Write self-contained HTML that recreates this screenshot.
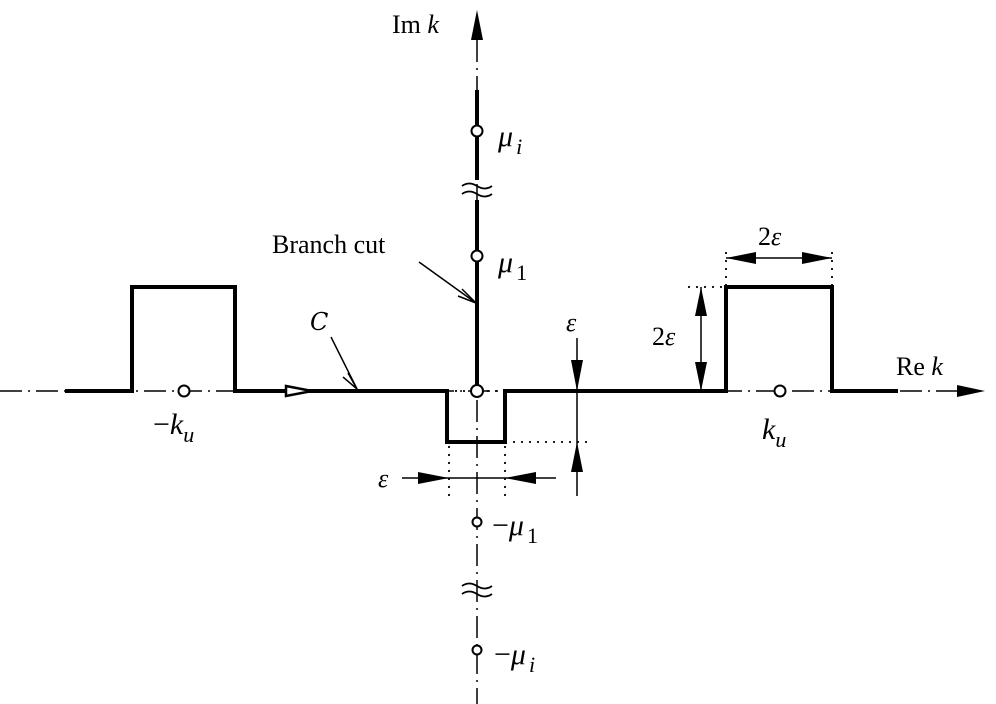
<!DOCTYPE html>
<html><head><style>body{margin:0;background:#fff}svg{display:block}</style></head><body>
<svg width="996" height="704" viewBox="0 0 996 704" xmlns="http://www.w3.org/2000/svg" font-family="'Liberation Serif',serif" font-size="26">
<g stroke="#000" fill="none">
<line x1="0" y1="391" x2="960" y2="391" stroke-width="1.5" stroke-dasharray="22,6,2,6"/>
<line x1="477" y1="40" x2="477" y2="704" stroke-width="1.5" stroke-dasharray="22,6,2,6"/>
<line x1="477" y1="90" x2="477" y2="180" stroke-width="4"/>
<line x1="477" y1="200" x2="477" y2="391" stroke-width="4"/>
<path d="M462,186 q7,-5 15,0 t15,0 M462,194 q7,-5 15,0 t15,0" stroke-width="1.8"/>
<path d="M462,586 q7,-5 15,0 t15,0 M462,594 q7,-5 15,0 t15,0" stroke-width="1.8"/>
<path d="M65,391 H132 V287 H235 V391 H447 V442 H505 V391 H726 V287 H832 V391 H898" stroke-width="4"/>
<g stroke-width="1.8" stroke-dasharray="2,6">
<line x1="447" y1="391" x2="505" y2="391"/>
<line x1="505" y1="442" x2="592" y2="442"/>
<line x1="449" y1="446" x2="449" y2="496"/>
<line x1="505" y1="446" x2="505" y2="496"/>
<line x1="726" y1="252" x2="726" y2="285"/>
<line x1="832" y1="252" x2="832" y2="285"/>
<line x1="688" y1="287" x2="724" y2="287"/>
</g>
<line x1="577" y1="338" x2="577" y2="496" stroke-width="1.5"/>
<line x1="402" y1="478" x2="556" y2="478" stroke-width="1.5"/>
<line x1="726" y1="258" x2="832" y2="258" stroke-width="1.5"/>
<line x1="701" y1="287" x2="701" y2="391" stroke-width="1.5"/>
<line x1="419" y1="262" x2="476" y2="303" stroke-width="1.5"/>
<path d="M462,289 L476,303 L458,296" stroke-width="1.5"/>
<line x1="331" y1="337" x2="357" y2="389" stroke-width="1.5"/>
<path d="M348,373 L357,389 L343,377" stroke-width="1.5"/>
</g>
<g fill="#000">
<polygon points="477,10 471,40 483,40"/>
<polygon points="985,391 957,385 957,397"/>
<polygon points="577,391 571,360 583,360"/>
<polygon points="577,442 571,472 583,472"/>
<polygon points="449,478 418,472 418,484"/>
<polygon points="505,478 536,472 536,484"/>
<polygon points="726,258 756,252 756,264"/>
<polygon points="832,258 802,252 802,264"/>
<polygon points="701,287 695,316 707,316"/>
<polygon points="701,391 695,362 707,362"/>
</g>
<polygon points="286,386 312,391 286,396" fill="#fff" stroke="#000" stroke-width="2.5"/>
<g fill="#fff" stroke="#000" stroke-width="2">
<circle cx="477" cy="131" r="5.5"/>
<circle cx="477" cy="256" r="5.5"/>
<circle cx="477" cy="391" r="6"/>
<circle cx="184" cy="391" r="5.5"/>
<circle cx="780" cy="391" r="5.5"/>
<circle cx="477" cy="522" r="4.5"/>
<circle cx="477" cy="650" r="4.5"/>
</g>
<text x="392" y="33">Im <tspan font-style="italic">k</tspan></text>
<text x="896" y="375">Re <tspan font-style="italic">k</tspan></text>
<text x="272" y="253">Branch cut</text>
<text x="498" y="146" font-style="italic" font-size="30">μ<tspan font-size="22" dx="3" dy="8">i</tspan></text>
<text x="498" y="272" font-style="italic" font-size="30">μ<tspan font-size="22" font-style="normal" dx="3" dy="8">1</tspan></text>
<text x="492" y="535" font-size="30"><tspan>−</tspan><tspan font-style="italic">μ</tspan><tspan font-size="22" dx="3" dy="8">1</tspan></text>
<text x="494" y="664" font-size="30"><tspan>−</tspan><tspan font-style="italic">μ</tspan><tspan font-size="22" font-style="italic" dx="3" dy="8">i</tspan></text>
<text x="153" y="434" font-size="30"><tspan>−</tspan><tspan font-style="italic">k</tspan><tspan font-size="22" font-style="italic" dy="8">u</tspan></text>
<text x="762" y="439" font-style="italic" font-size="30">k<tspan font-size="22" dy="8">u</tspan></text>
<text x="310" y="330" font-style="italic" font-family="'DejaVu Serif',serif" font-size="24">C</text>
<text x="566" y="331" font-style="italic">ε</text>
<text x="378" y="487" font-style="italic">ε</text>
<text x="758" y="245">2<tspan font-style="italic">ε</tspan></text>
<text x="652" y="345">2<tspan font-style="italic">ε</tspan></text>
</svg>
</body></html>
